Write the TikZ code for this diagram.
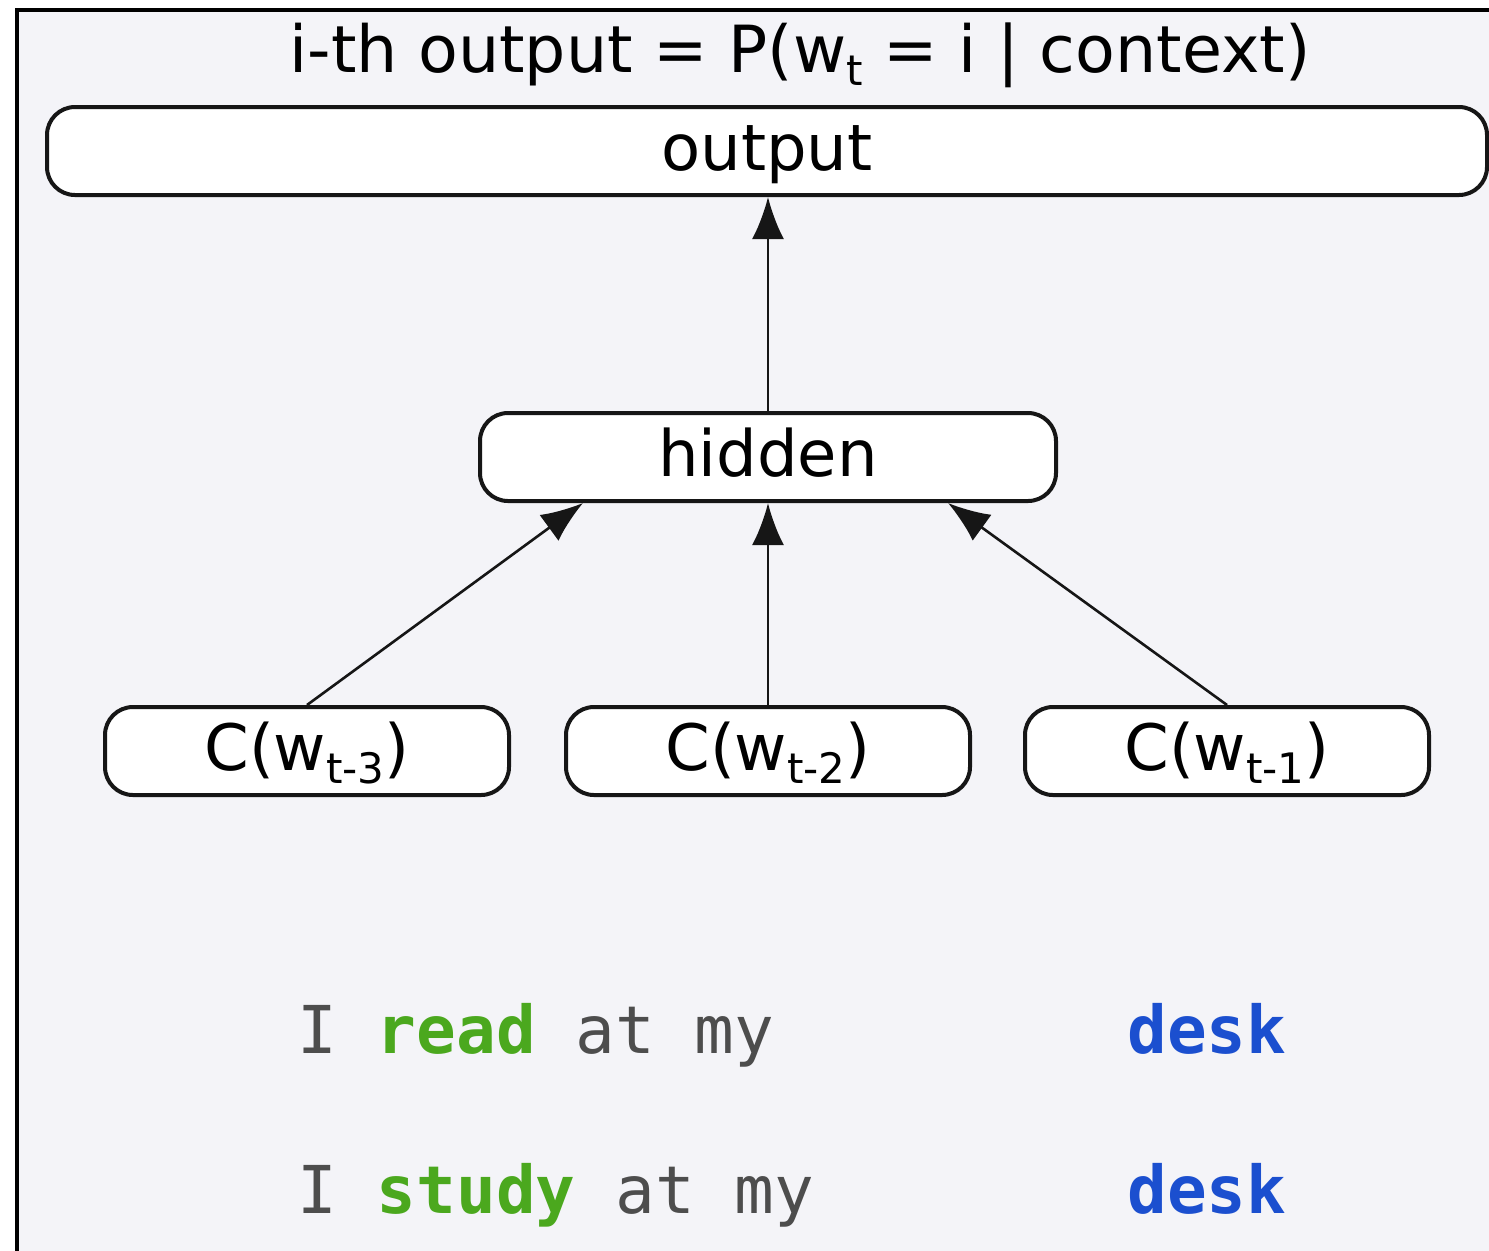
\documentclass[tikz,border=0pt]{standalone}
\usepackage{fontspec}
\setmainfont{DejaVu Sans}
\setmonofont{DejaVu Sans Mono}
\usetikzlibrary{arrows.meta,calc}
\definecolor{Frame}{HTML}{F4F4F8}
\definecolor{Ink}{HTML}{161616}
\definecolor{Word}{HTML}{4D4D4D}
\definecolor{Verb}{HTML}{4BA81E}
\definecolor{Target}{HTML}{1B4FCF}
\newcommand{\lowsub}[1]{\raisebox{-6.5pt}{\fontsize{21}{21}\selectfont #1}}

\begin{document}
\begin{tikzpicture}[x=0.5pt,y=-0.5pt,
  layer/.style={draw=Ink,line width=2pt,fill=white,rounded corners=14pt,inner sep=0pt,
    minimum height=44pt,text height=25pt,text depth=6pt,font=\fontsize{32}{38}\selectfont},
  feed/.style={draw=Ink,line width=1.3pt,-{Latex[length=21pt,width=16pt]}},
  sentence/.style={anchor=base west,inner sep=0pt,text=Word,font=\ttfamily\fontsize{33}{40}\selectfont}]
\clip (0,0) rectangle (1489,1250);
\fill[white] (0,0) rectangle (1489,1250);
\draw[line width=2pt,fill=Frame] (17,10) rectangle (1500,1260);
% network layers
\node[anchor=base,font=\fontsize{32.5}{38}\selectfont] (title) at (800,72)
  {i-th output = P(w\lowsub{t} = i | context)};
\node[layer,minimum width=720pt] (output) at (767,151) {output};
\node[layer,minimum width=288pt] (hidden) at (768,457) {hidden};
\foreach \n/\x/\k in {c3/307/3,c2/768/2,c1/1227/1}{
  \node[layer,minimum width=202pt] (\n) at (\x,751) {C(w\lowsub{t-\k})};
}
% connections
\draw[feed] (hidden.north) -- (hidden.north |- output.south);
\draw[feed] (c3.north) -- ($(hidden.south)+(-185,0)$);
\draw[feed] (c2.north) -- (hidden.south);
\draw[feed] (c1.north) -- ($(hidden.south)+(180,0)$);
% example sentences
\node[sentence] (line1) at (297,1053) {I \textbf{\textcolor{Verb}{read}} at my};
\node[sentence,text=Target] (desk1) at (1127,1053) {\textbf{desk}};
\node[sentence] (line2) at (297,1213) {I \textbf{\textcolor{Verb}{study}} at my};
\node[sentence,text=Target] (desk2) at (1127,1213) {\textbf{desk}};
\end{tikzpicture}
\end{document}
